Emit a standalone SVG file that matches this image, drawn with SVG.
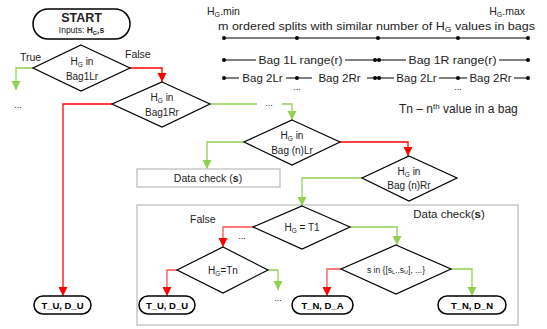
<svg xmlns="http://www.w3.org/2000/svg" width="547" height="329" viewBox="0 0 547 329">
<defs>
<marker id="ar" markerUnits="userSpaceOnUse" markerWidth="10" markerHeight="10" refX="9" refY="5" orient="auto"><path d="M0,0.5 L9,5 L0,9.5 z" fill="#ff0000"/></marker>
<marker id="ag" markerUnits="userSpaceOnUse" markerWidth="10" markerHeight="10" refX="9" refY="5" orient="auto"><path d="M0,0.5 L9,5 L0,9.5 z" fill="#92d050"/></marker>
<style>
text{font-family:"Liberation Sans",Arial,sans-serif;fill:#222}
.d{fill:#fff;stroke:#000;stroke-width:1.2}
.t{fill:#fff;stroke:#000;stroke-width:1.5}
.g{fill:#fff;stroke:#bfbfbf;stroke-width:1.3}
.dt{font-size:10px;text-anchor:middle}
.tb{font-size:9.5px;font-weight:bold;text-anchor:middle;fill:#000}
.r{fill:none;stroke:#ff0000;stroke-width:1.3;marker-end:url(#ar)}
.r2{fill:none;stroke:#ff5050;stroke-width:1.3;marker-end:url(#ar)}
.gr{fill:none;stroke:#92d050;stroke-width:1.3;marker-end:url(#ag)}
.gl{fill:none;stroke:#92d050;stroke-width:1.3}
.ln{stroke:#000;stroke-width:1}
.dot{fill:#000}
.sm{font-size:11.5px}
.el{font-size:9px;text-anchor:middle}
</style>
</defs>
<rect width="547" height="329" fill="#fff"/>

<g id="frame-datacheck">
<rect class="g" x="137" y="205" width="381" height="120"/>
<text x="449" y="218" font-size="11.5" text-anchor="middle">Data check(<tspan font-weight="bold">s</tspan>)</text>
</g>

<g id="legend">
<text x="207" y="15" font-size="10.5">H<tspan font-size="7" dy="1.5">G</tspan><tspan dy="-1.5">.min</tspan></text>
<text x="525" y="15" font-size="10.5" text-anchor="end">H<tspan font-size="7" dy="1.5">G</tspan><tspan dy="-1.5">.max</tspan></text>
<text x="218" y="30" font-size="11" textLength="317" lengthAdjust="spacingAndGlyphs">m ordered splits with similar number of H<tspan font-size="7.5" dy="2">G</tspan><tspan dy="-2"> values in bags</tspan></text>
<line class="ln" x1="224" y1="38" x2="528" y2="38"/>
<circle class="dot" cx="224" cy="38" r="2"/><circle class="dot" cx="297" cy="38" r="2"/><circle class="dot" cx="378" cy="38" r="2"/><circle class="dot" cx="458" cy="38" r="2"/><circle class="dot" cx="528" cy="38" r="2"/>
<line class="ln" x1="224" y1="60" x2="256" y2="60"/><line class="ln" x1="345" y1="60" x2="406" y2="60"/><line class="ln" x1="499" y1="60" x2="528" y2="60"/>
<circle class="dot" cx="224" cy="60" r="2"/><circle class="dot" cx="375" cy="60" r="2"/><circle class="dot" cx="379" cy="60" r="2"/><circle class="dot" cx="528" cy="60" r="2"/>
<text x="300.5" y="64" class="sm" text-anchor="middle" textLength="84" lengthAdjust="spacingAndGlyphs">Bag 1L range(r)</text>
<text x="452.5" y="64" class="sm" text-anchor="middle" textLength="88" lengthAdjust="spacingAndGlyphs">Bag 1R range(r)</text>
<line class="ln" x1="224" y1="78" x2="239" y2="78"/><line class="ln" x1="286" y1="78" x2="312" y2="78"/><line class="ln" x1="367" y1="78" x2="394" y2="78"/><line class="ln" x1="439" y1="78" x2="467" y2="78"/><line class="ln" x1="514" y1="78" x2="528" y2="78"/>
<circle class="dot" cx="224" cy="78" r="2"/><circle class="dot" cx="297" cy="78" r="2"/><circle class="dot" cx="375" cy="78" r="2"/><circle class="dot" cx="379" cy="78" r="2"/><circle class="dot" cx="458" cy="78" r="2"/><circle class="dot" cx="528" cy="78" r="2"/>
<text x="262.5" y="82" class="sm" text-anchor="middle">Bag 2Lr</text>
<text x="339.5" y="82" class="sm" text-anchor="middle">Bag 2Rr</text>
<text x="416.5" y="82" class="sm" text-anchor="middle">Bag 2Lr</text>
<text x="490.5" y="82" class="sm" text-anchor="middle">Bag 2Rr</text>
<text x="297" y="90" class="el">...</text>
<text x="458" y="90" class="el">...</text>
<text x="399" y="113" font-size="12">Tn – n<tspan font-size="8" dy="-4">th</tspan><tspan dy="4"> value in a bag</tspan></text>
</g>

<g id="connectors">
<path class="gr" d="M33,68 H16 V90"/>
<path class="r" d="M130,68 H162 V82"/>
<path class="r" d="M112,104 H63 V296"/>
<path class="gl" d="M210,104 H257"/>
<path class="gr" d="M282,104 H292 V120"/>
<path class="gr" d="M244,142 H207 V169"/>
<path class="r" d="M340,142 H408 V156"/>
<path class="gr" d="M362,178 H302 V206"/>
<path class="r2" d="M253,227 H223 V247"/>
<path class="gr" d="M350,227 H397 V245"/>
<path class="r2" d="M177,270 H167 V296"/>
<path class="gr" d="M268,270 H278 V290"/>
<path class="r2" d="M341,269 H327 V296"/>
<path class="gr" d="M451,269 H472 V296"/>
<text x="20" y="61" font-size="10.5">True</text>
<text x="125" y="58" font-size="10.5">False</text>
<text x="190" y="223" font-size="10.5">False</text>
<text x="18" y="108" class="el">...</text>
<text x="269" y="106" class="el">...</text>
<text x="242" y="239" class="el">...</text>
<text x="278" y="301" class="el">...</text>
</g>

<g id="start">
<rect class="t" x="33" y="9" width="97" height="30" rx="15"/>
<text x="81.5" y="22" font-size="12.5" font-weight="bold" text-anchor="middle" fill="#000">START</text>
<text x="81.5" y="33" font-size="8.5" text-anchor="middle">Inputs: <tspan font-weight="bold">H<tspan font-size="5.5" dy="1.5">G</tspan><tspan dy="-1.5">,s</tspan></tspan></text>
</g>

<g id="d1">
<polygon class="d" points="81,45 130,68 81,91 33,68"/>
<text x="82" y="65" class="dt">H<tspan font-size="6.5" dy="2">G</tspan><tspan dy="-2"> in</tspan></text>
<text x="82" y="80" class="dt">Bag1Lr</text>
</g>

<g id="d2">
<polygon class="d" points="162,82 210,104 162,127 112,104"/>
<text x="162" y="101" class="dt">H<tspan font-size="6.5" dy="2">G</tspan><tspan dy="-2"> in</tspan></text>
<text x="162" y="116" class="dt">Bag1Rr</text>
</g>

<g id="d3">
<polygon class="d" points="292,120 340,142 292,165 244,142"/>
<text x="292" y="139" class="dt">H<tspan font-size="6.5" dy="2">G</tspan><tspan dy="-2"> in</tspan></text>
<text x="292" y="154" class="dt">Bag (n)Lr</text>
</g>

<g id="datacheck-small">
<rect class="g" x="137" y="169" width="143" height="18"/>
<text x="208" y="182" font-size="10.5" text-anchor="middle">Data check (<tspan font-weight="bold">s</tspan>)</text>
</g>

<g id="d4">
<polygon class="d" points="409,156 457,178 409,201 362,178"/>
<text x="409" y="175" class="dt">H<tspan font-size="6.5" dy="2">G</tspan><tspan dy="-2"> in</tspan></text>
<text x="409" y="189" class="dt">Bag (n)Rr</text>
</g>

<g id="d5">
<polygon class="d" points="302,206 350,227 302,249 253,227"/>
<text x="302" y="231" class="dt">H<tspan font-size="6.5" dy="2">G</tspan><tspan dy="-2"> = T1</tspan></text>
</g>

<g id="d6">
<polygon class="d" points="223,247 268,270 223,293 177,270"/>
<text x="223" y="274" class="dt">H<tspan font-size="6.5" dy="2">G</tspan><tspan dy="-2">=Tn</tspan></text>
</g>

<g id="d7">
<polygon class="d" points="396,245 451,269 396,294 341,269"/>
<text x="396" y="272.5" font-size="8.5" text-anchor="middle">s in {[s<tspan font-size="5.5" dy="1.5">L</tspan><tspan dy="-1.5">..s</tspan><tspan font-size="5.5" dy="1.5">U</tspan><tspan dy="-1.5">], ...}</tspan></text>
</g>

<g id="tu1">
<rect class="t" x="34" y="296" width="57" height="18" rx="9"/>
<text x="62.5" y="308.5" class="tb">T_U, D_U</text>
</g>
<g id="tu2">
<rect class="t" x="139" y="296" width="56" height="18" rx="9"/>
<text x="167" y="308.5" class="tb">T_U, D_U</text>
</g>
<g id="tna">
<rect class="t" x="292" y="296" width="61" height="18" rx="9"/>
<text x="322.5" y="308.5" class="tb">T_N, D_A</text>
</g>
<g id="tnn">
<rect class="t" x="438" y="296" width="68" height="18" rx="9"/>
<text x="472" y="308.5" class="tb">T_N, D_N</text>
</g>
</svg>
